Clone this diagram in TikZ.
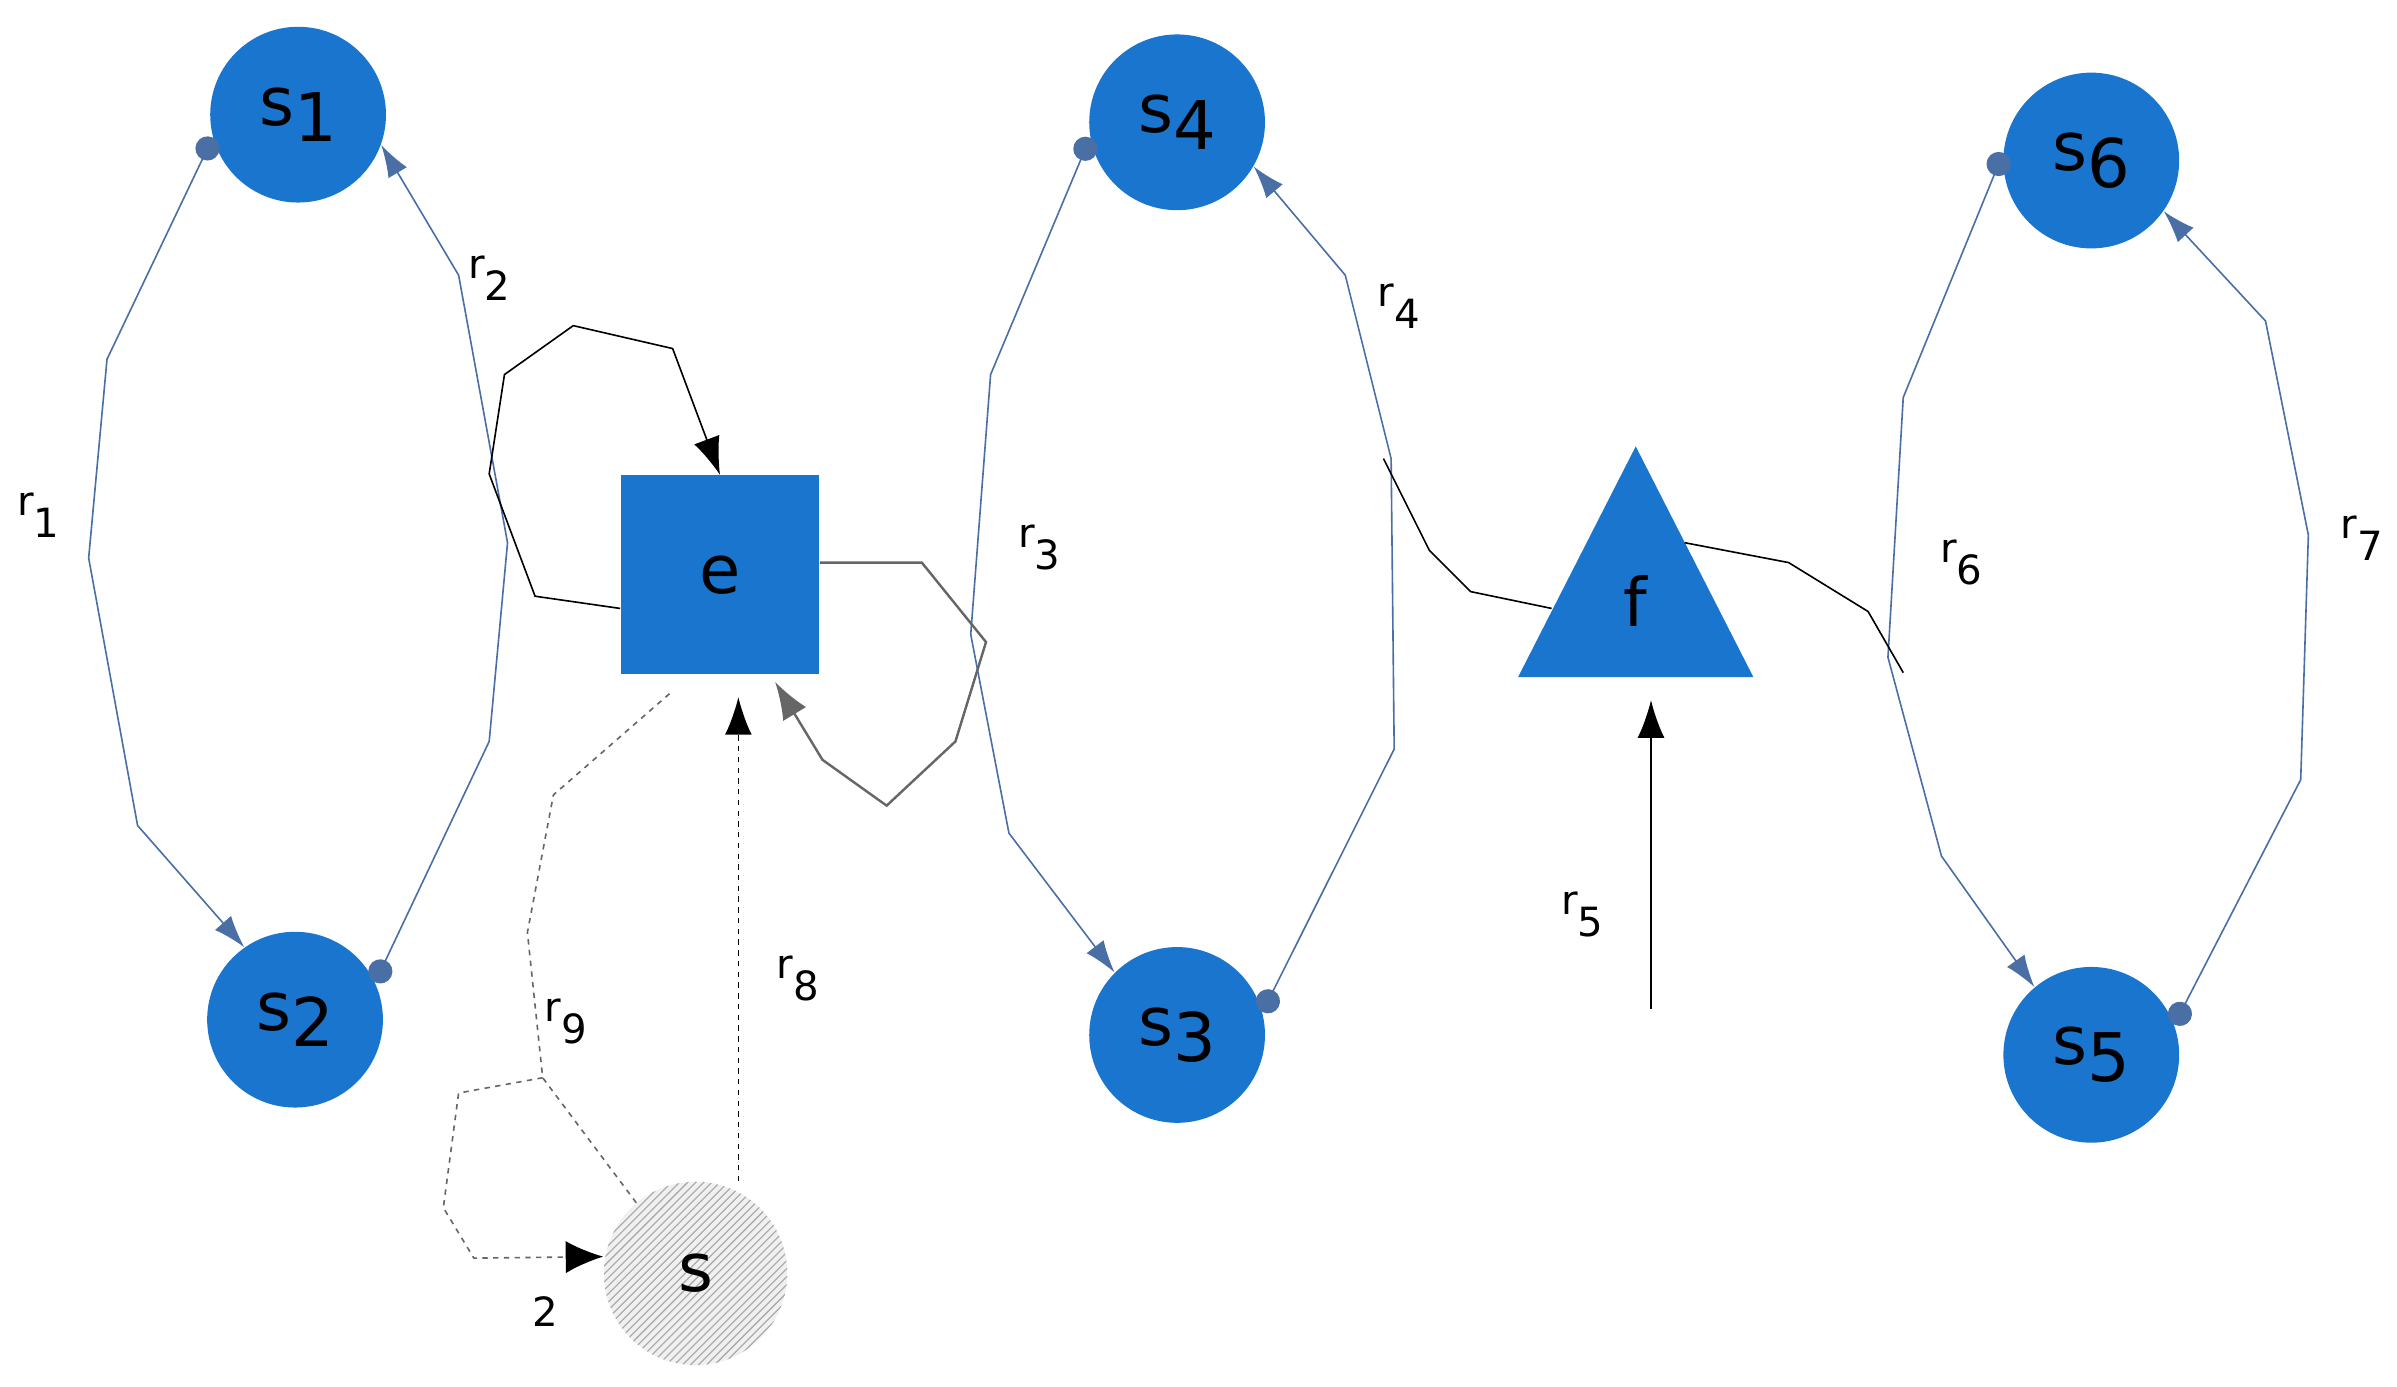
\documentclass[tikz,border=0pt]{standalone}
\usepackage{fontspec}
\setmainfont{DejaVu Sans}
\usetikzlibrary{arrows.meta,shapes.geometric,patterns}
\definecolor{nb}{HTML}{1A75CF}
\definecolor{lb}{HTML}{4A6FA5}
\begin{document}
\begin{tikzpicture}[x=0.02cm,y=-0.02cm,
  st/.style={circle,fill=nb,minimum size=2.3cm,inner sep=0pt,font=\fontsize{25}{27}\selectfont},
  bl/.style={lb,line width=0.6pt},
  dotb/.style={{Circle[length=9pt]}-{Latex[length=12pt,width=8pt]}},
  lab/.style={font=\fontsize{15}{17}\selectfont},
  bk/.style={black,line width=0.6pt,-{Latex[length=14pt,width=10pt]}}]
\useasboundingbox (0,0) rectangle (1568,907);
\node[st] (s1) at (195,75) {s\raisebox{-.45ex}{1}};
\node[st] (s2) at (193,667) {s\raisebox{-.45ex}{2}};
\node[st] (s4) at (770,80) {s\raisebox{-.45ex}{4}};
\node[st] (s3) at (770,677) {s\raisebox{-.45ex}{3}};
\node[st] (s6) at (1368,105) {s\raisebox{-.45ex}{6}};
\node[st] (s5) at (1368,690) {s\raisebox{-.45ex}{5}};
\node[fill=nb,minimum size=2.6cm,inner sep=0pt,font=\fontsize{25}{27}\selectfont] (e) at (471,376) {e};
\fill[nb] (1070,292) -- (1147,443) -- (993,443) -- cycle;
\node[font=\fontsize{25}{27}\selectfont] (f) at (1070,393) {f};
\path[fill=gray!12] (455,833) circle (60);
\node[circle,minimum size=2.4cm,pattern={north east lines},pattern color=gray!70,font=\fontsize{25}{27}\selectfont] (s) at (455,833) {s};
% blue cycles
\draw[bl,dotb] (s1.195) -- (70,235) -- (58,365) -- (90,540) -- (s2.125);
\draw[bl,dotb] (s2.25) -- (320,485) -- (332,355) -- (300,180) -- (s1.-20);
\draw[bl,dotb] (s4.190) -- (648,245) -- (635,415) -- (660,545) -- (s3.135);
\draw[bl,dotb] (s3.15) -- (912,490) -- (910,300) -- (880,180) -- (s4.-30);
\draw[bl,dotb] (s6.175) -- (1245,260) -- (1235,430) -- (1270,560) -- (s5.130);
\draw[bl,dotb] (s5.20) -- (1505,510) -- (1510,350) -- (1482,210) -- (s6.-35);
% e loops
\draw[bk] (e.west|-0,398) -- (350,390) -- (320,310) -- (330,245) -- (375,213) -- (440,228) -- (e.north);
\draw[gray!80!black,line width=0.9pt,-{Latex[length=14pt,width=10pt]}] (e.east|-0,368) -- (603,368) -- (645,420) -- (625,485) -- (580,527) -- (538,497) -- (507,446);
% f
\coordinate (fa) at (905,300); \coordinate (fb) at (1245,440);
\draw[black,line width=0.6pt] (1015,398) -- (962,387) -- (935,360) -- (fa);
\draw[black,line width=0.6pt] (1102,355) -- (1170,368) -- (1222,400) -- (fb);
\coordinate (r5s) at (1080,660);
\draw[bk] (r5s) -- (1080,458);
% s
\draw[black,line width=0.6pt,dash pattern=on 2pt off 2pt,-{Latex[length=14pt,width=10pt]}] (s.north -| 483,0) -- (483,456);
\draw[gray!80!black,line width=0.6pt,dash pattern=on 2pt off 2pt] (s.130) -- (355,705) -- (345,610) -- (362,520) -- (440,452);
\draw[gray!80!black,line width=0.6pt,dash pattern=on 2pt off 2pt,-{Latex[length=14pt,width=12pt,black]}] (355,705) -- (300,715) -- (290,790) -- (310,823) -- (s.west|-0,822);
\node[lab] at (357,858) {2};
\node[lab] at (25,337) {r\raisebox{-1ex}{1}};
\node[lab] at (320,182) {r\raisebox{-1ex}{2}};
\node[lab] at (680,358) {r\raisebox{-1ex}{3}};
\node[lab] at (915,200) {r\raisebox{-1ex}{4}};
\node[lab] at (1035,598) {r\raisebox{-1ex}{5}};
\node[lab] at (1283,368) {r\raisebox{-1ex}{6}};
\node[lab] at (1545,352) {r\raisebox{-1ex}{7}};
\node[lab] at (522,640) {r\raisebox{-1ex}{8}};
\node[lab] at (370,668) {r\raisebox{-1ex}{9}};
\end{tikzpicture}
\end{document}
